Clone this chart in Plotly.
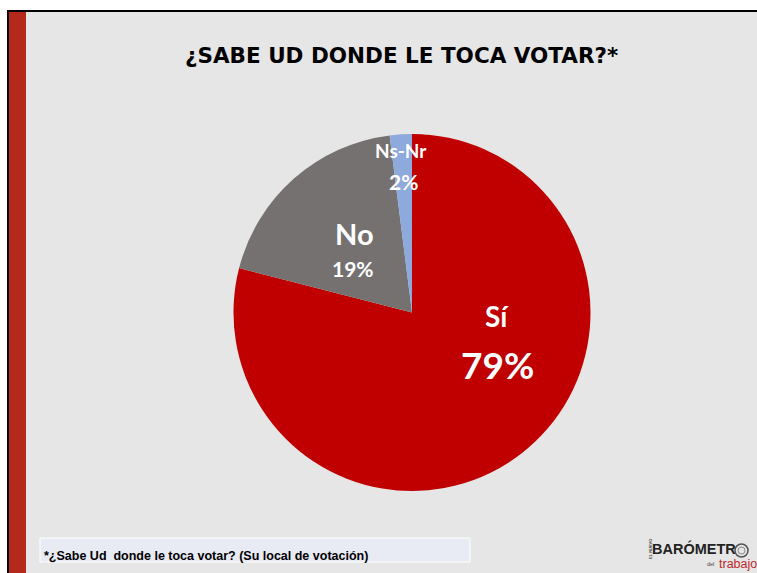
import plotly.graph_objects as go

categories = ["Sí", "No", "Ns-Nr"]
values = [79, 19, 2]
colors = ["#C00000", "#767171", "#8EA9DB"]
title_text = "¿SABE UD DONDE LE TOCA VOTAR?*"
footnote_text = "*¿Sabe Ud  donde le toca votar? (Su local de votación)"

W, H = 757, 573
def px(x):
    return x / W
def py(y):
    return 1 - y / H

cx, cy, r = 412, 312.5, 178.5

fig = go.Figure(go.Pie(
    labels=categories, values=values, sort=False, direction="clockwise",
    rotation=0, marker=dict(colors=colors, line=dict(width=0)),
    textinfo="none", hoverinfo="label+percent", showlegend=False,
    domain=dict(x=[px(cx - r), px(cx + r)], y=[py(cy + r), py(cy - r)]),
))

def rect(x0, x1, y0, y1, fill, line=None, layer="below"):
    return dict(type="rect", xref="paper", yref="paper",
                x0=max(px(x0), 0), x1=min(px(x1), 1), y0=max(py(y1), 0), y1=min(py(y0), 1),
                fillcolor=fill, line=line or dict(width=0), layer=layer)

shapes = [
    rect(7, 757, 10, 573, "#000000"),
    rect(26, 757, 12, 573, "#E6E6E6"),
    rect(9, 26, 12, 573, "#B5281C"),
    rect(40, 470, 538, 562, "#E8EAF4", dict(width=1, color="#FFFFFF")),
    dict(type="circle", xref="paper", yref="paper", x0=px(735), x1=px(748), y0=py(557), y1=py(544),
         fillcolor="rgba(0,0,0,0)", line=dict(width=1.5, color="#555555"), layer="above"),
    dict(type="circle", xref="paper", yref="paper", x0=px(738), x1=px(745), y0=py(554), y1=py(547),
         fillcolor="rgba(0,0,0,0)", line=dict(width=1, color="#888888"), layer="above"),
]

lab_font = "Lato, 'Open Sans', Arial, sans-serif"
def ann(x, y, text, size, color="#FFFFFF", family=lab_font, bold=True, xanchor="center", angle=0):
    return dict(x=px(x), y=py(y), xref="paper", yref="paper", text=(f"<b>{text}</b>" if bold else text),
                showarrow=False, font=dict(size=size, color=color, family=family),
                xanchor=xanchor, yanchor="middle", textangle=angle)

annotations = [
    ann(401, 56, title_text, 21.5, "#000000", "'DejaVu Sans', Verdana, sans-serif"),
    ann(42, 556, footnote_text, 12.5, "#000000", "Arial, 'Liberation Sans', sans-serif", xanchor="left"),
    ann(497, 316, categories[0], 28),
    ann(497, 364, f"{values[0]}%", 37),
    ann(354, 233, categories[1], 29),
    ann(353, 268, f"{values[1]}%", 21),
    ann(401, 151, categories[2], 19),
    ann(403, 181, f"{values[2]}%", 21),
    ann(694, 548.5, "BARÓMETR", 14.5, "#222222", "Arial, 'Liberation Sans', sans-serif"),
    ann(717, 564, "trabajo", 12.5, "#C0282A", "Arial, 'Liberation Sans', sans-serif", bold=False, xanchor="left"),
    ann(710, 564, "del", 5.5, "#444444", "Arial", bold=False),
    ann(650, 549, "EL NUEVO", 4, "#444444", "Arial", angle=-90),
]

fig.update_layout(
    width=W, height=H, margin=dict(l=0, r=0, t=0, b=0),
    paper_bgcolor="#FFFFFF", plot_bgcolor="#FFFFFF",
    shapes=shapes, annotations=annotations,
)

fig.write_html("out.html", config={"displayModeBar": False},
               post_script="document.body.style.margin='0';document.body.style.overflow='hidden';")
